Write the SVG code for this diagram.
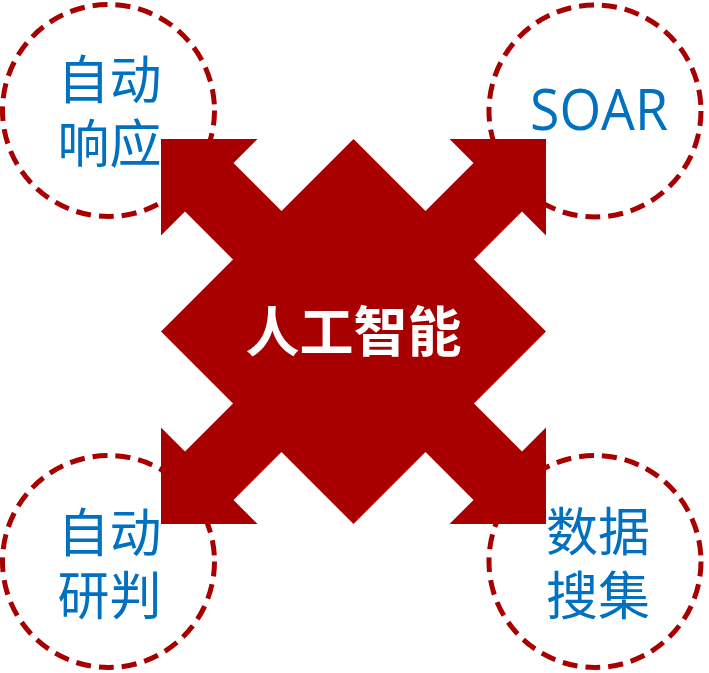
<svg xmlns="http://www.w3.org/2000/svg" width="709" height="673" viewBox="0 0 709 673">
<style>
.ring{fill:#fff;stroke:#A80000;stroke-width:5;stroke-dasharray:15 8}
.lbl{font-family:"Noto Sans CJK SC","Noto Sans",sans-serif;font-size:52px;fill:#0070C0;text-anchor:middle}
.en{font-family:"Open Sans","Noto Sans",sans-serif;font-size:56px;fill:#0070C0;text-anchor:middle}
.ai{font-family:"Noto Sans CJK SC",sans-serif;font-size:54px;font-weight:bold;fill:#fff;text-anchor:middle}
</style>
<rect width="709" height="673" fill="#fff"/>
<g id="node-auto-response">
<circle class="ring" cx="108.5" cy="110.5" r="106"/>
<text class="lbl"><tspan x="109.5" y="99">自动</tspan><tspan x="109.5" y="162.5">响应</tspan></text>
</g>
<g id="node-soar">
<circle class="ring" cx="595" cy="111" r="106"/>
<text class="en" x="599" y="130" textLength="138" lengthAdjust="spacingAndGlyphs">SOAR</text>
</g>
<g id="node-auto-analysis">
<circle class="ring" cx="108.5" cy="561.5" r="106"/>
<text class="lbl"><tspan x="109.5" y="552">自动</tspan><tspan x="109.5" y="614.5">研判</tspan></text>
</g>
<g id="node-data-collect">
<circle class="ring" cx="595" cy="561.5" r="106"/>
<text class="lbl"><tspan x="598" y="551">数据</tspan><tspan x="598" y="614.5">搜集</tspan></text>
</g>
<g id="connectors"></g>
<g id="node-ai">
<path fill="#A80000" d="M161,139 L257.5,139 L233.5,163 L281.5,211 L353.5,139 L425.5,211 L473.5,163 L449.5,139 L546,139 L546,235.5 L522,211.5 L474,259.5 L546,331.5 L474,403.5 L522,451.5 L546,427.5 L546,524 L449.5,524 L473.5,500 L425.5,452 L353.5,524 L281.5,452 L233.5,500 L257.5,524 L161,524 L161,427.5 L185,451.5 L233,403.5 L161,331.5 L233,259.5 L185,211.5 L161,235.5 Z"/>
<text class="ai" x="353.5" y="352">人工智能</text>
</g>
</svg>
